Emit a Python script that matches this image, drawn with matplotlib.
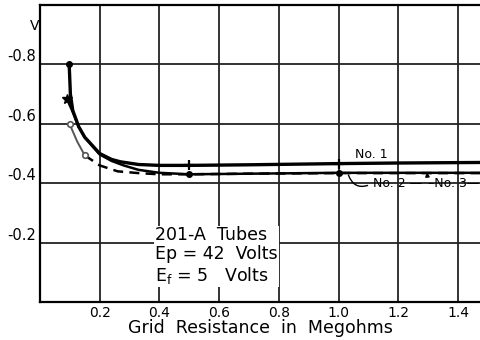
import matplotlib
matplotlib.use("Agg")
import matplotlib.pyplot as plt

plt.rcParams['axes.unicode_minus'] = False
plt.rcParams['font.family'] = ['DejaVu Sans']

# grid resistance (megohms) vs. grid potential (volts), three 201-A tubes
x1 = [0.098, 0.102, 0.11, 0.13, 0.15, 0.2, 0.24, 0.27, 0.33, 0.4, 0.5, 0.7, 1.0, 1.2, 1.5]
y1 = [-0.80, -0.70, -0.645, -0.59, -0.555, -0.50, -0.48, -0.472, -0.463, -0.46, -0.46, -0.462, -0.466, -0.468, -0.47]

x2 = [0.09, 0.11, 0.13, 0.15, 0.2, 0.24, 0.28, 0.33, 0.4, 0.5, 0.7, 1.0, 1.2, 1.5]
y2 = [-0.685, -0.64, -0.59, -0.555, -0.497, -0.475, -0.46, -0.445, -0.435, -0.43, -0.432, -0.435, -0.435, -0.435]

x3 = [0.1, 0.125, 0.15, 0.2, 0.26, 0.33, 0.4, 0.5, 0.7, 1.0, 1.3, 1.5]
y3 = [-0.598, -0.54, -0.494, -0.46, -0.44, -0.434, -0.43, -0.43, -0.432, -0.434, -0.434, -0.434]

xticks = [0.2, 0.4, 0.6, 0.8, 1.0, 1.2, 1.4]
xlabels = ['0.2', '0.4', '0.6', '0.8', '1.0', '1.2', '1.4']
yticks = [-0.8, -0.6, -0.4, -0.2]
ylabels = ['-0.8', '-0.6', '-0.4', '-0.2']

fig = plt.figure(figsize=(4.81, 3.40), dpi=100)
ax = fig.add_axes([0.083, 0.112, 0.917, 0.873])

ax.set_xlim(0, 1.477)
ax.set_ylim(0, -1.0)

# heavy grid like the ruled paper
for v in xticks:
    ax.axvline(v, color='#222222', lw=1.3, zorder=1)
for v in yticks:
    ax.axhline(v, color='#222222', lw=1.3, zorder=1)

# No. 1
ax.plot(x1, y1, color='black', lw=2.4, solid_capstyle='round', zorder=3)
ax.plot([x1[0]], [y1[0]], 'o', color='black', ms=4, zorder=4)
ax.plot([x1[10], x1[12]], [y1[10], y1[12]], '+', color='black', ms=7, mew=1.6, zorder=4)

# No. 2
ax.plot(x2, y2, color='black', lw=1.8, zorder=3)
ax.plot([x2[0]], [y2[0]], '*', color='black', ms=7, zorder=4)
ax.plot([x2[9], x2[11]], [y2[9], y2[11]], 'o', color='black', ms=4, zorder=4)

# No. 3: solid near the start, dashed afterwards
ax.plot(x3[:3], y3[:3], color='#555555', lw=1.4, zorder=3)
ax.plot(x3[2:], y3[2:], color='black', lw=1.8, ls=(0, (4, 2.5)), zorder=3)
ax.plot(x3[:3:2], y3[:3:2], 'o', mfc='white', mec='#555555', ms=4, mew=1.2, zorder=4)

ax.set_xticks(xticks)
ax.set_xticklabels(xlabels, fontsize=10)
ax.set_yticks(yticks)
ax.set_yticklabels(ylabels, fontsize=10.5)
for lab in ax.get_yticklabels():
    lab.set_va('bottom')
ax.tick_params(length=0, pad=3)

for s in ['left', 'bottom', 'top']:
    ax.spines[s].set_linewidth(1.6)
ax.spines['right'].set_visible(False)

ax.set_xlabel('Grid  Resistance  in  Megohms', fontsize=12.5, labelpad=-1)
fig.text(0.073, 0.925, 'V', fontsize=10, ha='center', va='center')

ax.text(1.11, -0.497, 'No. 1', fontsize=9, ha='center', va='center')
ax.annotate('No. 2 \u2014', xy=(1.03, -0.436), xytext=(1.115, -0.40),
            fontsize=9, ha='left', va='center',
            arrowprops=dict(arrowstyle='-', lw=1, color='black',
                            relpos=(0, 0.5), connectionstyle='arc3,rad=-0.6'))
ax.annotate('\u2013No. 3\u2014', xy=(1.296, -0.437), xytext=(1.30, -0.40),
            fontsize=9, ha='left', va='center',
            arrowprops=dict(arrowstyle='-|>', lw=1, color='black',
                            mutation_scale=6, relpos=(0, 0.5)))

ax.text(0.385, -0.255, '201-A  Tubes\nEp = 42  Volts\n$\\mathregular{E_f}$ = 5   Volts',
        fontsize=12.5, ha='left', va='top', linespacing=1.08,
        bbox=dict(fc='white', ec='none', pad=1))

fig.savefig('out.png', dpi=100)
